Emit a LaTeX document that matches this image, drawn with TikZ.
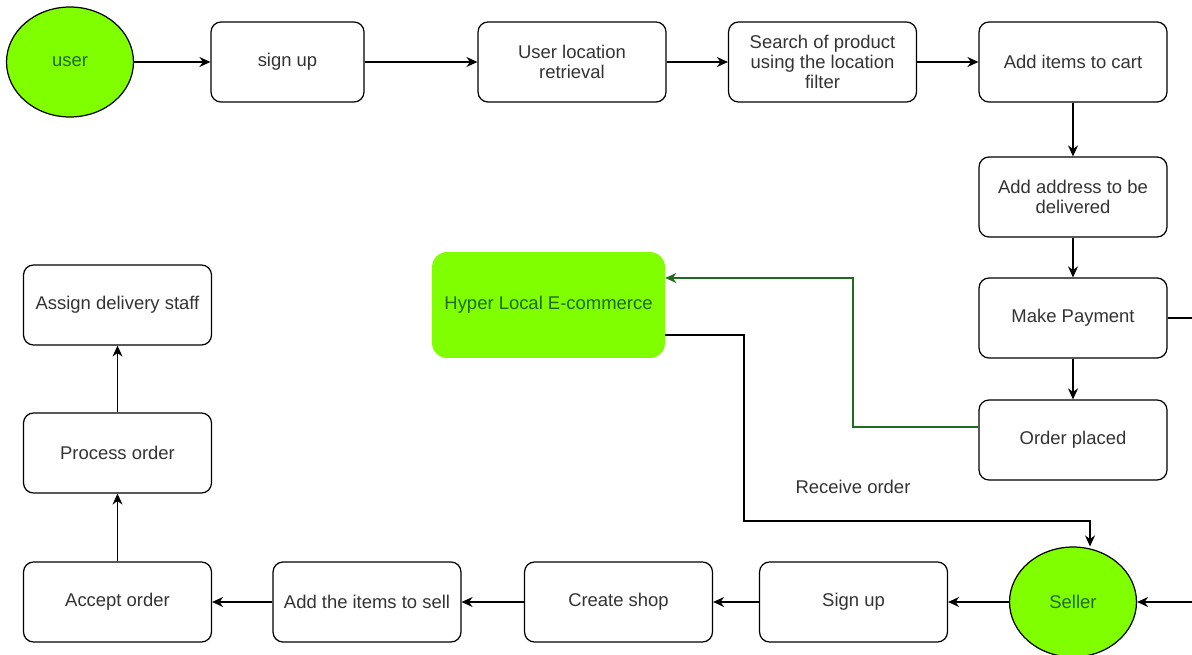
\documentclass[tikz,border=0pt]{standalone}
\usepackage{fontspec}
\setmainfont{Liberation Sans}
\usepackage{xcolor}
\usetikzlibrary{positioning,calc,arrows.meta,shapes.geometric}

\definecolor{lime}{HTML}{80FF00}
\definecolor{darkleaf}{HTML}{1F6B1F}
\definecolor{inkgrey}{HTML}{333333}

\begin{document}
\begin{tikzpicture}[
  x=0.02cm, y=-0.02cm,
  font=\fontsize{10.5}{11.5}\selectfont,
  box/.style={draw, rounded corners=0.2cm, align=center, text=inkgrey, line width=0.7pt, minimum width=3.76cm, minimum height=1.6cm},
  actor/.style={draw, ellipse, fill=lime, text=darkleaf, line width=0.7pt, inner sep=0pt, minimum width=2.54cm, minimum height=2.2cm},
  hub/.style={rounded corners=0.3cm, fill=lime, text=darkleaf, align=center, minimum width=4.66cm, minimum height=2.12cm},
  arrow/.style={-{Stealth[length=0.22cm,width=0.2cm]}, line width=0.7pt},
  greenarrow/.style={arrow, draw=darkleaf}
]
\useasboundingbox (0,0) rectangle (1192,655);

% Buyer side
\node[actor] (user) at (70,62) {user};
\node[box, minimum width=3.06cm] (signup) at (287.5,62) {sign up};
\node[box] (locate) at (572,62) {User location\\retrieval};
\node[box] (search) at (822.5,62) {Search of product\\using the location\\filter};
\node[box] (cart) at (1073,62) {Add items to cart};
\node[box] (address) at (1073,197) {Add address to be\\delivered};
\node[box] (payment) at (1073,318) {Make Payment};
\node[box] (placed) at (1073,440) {Order placed};

\node[hub] (hyper) at (548.5,305) {Hyper Local E-commerce};

% Seller side
\node[actor] (seller) at (1073,602) {Seller};
\node[box] (sellsignup) at (853.5,602) {Sign up};
\node[box] (shop) at (618.5,602) {Create shop};
\node[box] (sellitems) at (367,602) {Add the items to sell};
\node[box] (accept) at (117.5,602) {Accept order};
\node[box] (process) at (117.5,453) {Process order};
\node[box] (staff) at (117.5,305) {Assign delivery staff};

\coordinate (payout) at (1192,318);
\coordinate (sellin) at (1192,602);
\coordinate (gbend) at (853,278);
\coordinate (rbend) at (744,521);

\draw[arrow] (user) -- (signup);
\draw[arrow] (signup) -- (locate);
\draw[arrow] (locate) -- (search);
\draw[arrow] (search) -- (cart);
\draw[arrow] (cart) -- (address);
\draw[arrow] (address) -- (payment);
\draw[arrow] (payment) -- (placed);
\draw[line width=0.7pt] (payment.east) -- (payout);
\draw[arrow] (sellin) -- (seller);

% Order goes to the platform and on to the seller
\draw[greenarrow] ([yshift=0.26cm]placed.west) -| (gbend) -- (gbend -| hyper.east);
\draw[arrow] ([yshift=-0.6cm]hyper.east) -| (rbend) -| ([xshift=0.34cm]seller.north);
\node[text=inkgrey] (receive) at (853,487) {Receive order};

\draw[arrow] (seller) -- (sellsignup);
\draw[arrow] (sellsignup) -- (shop);
\draw[arrow] (shop) -- (sellitems);
\draw[arrow] (sellitems) -- (accept);
\draw[arrow] (accept) -- (process);
\draw[arrow] (process) -- (staff);
\end{tikzpicture}
\end{document}
